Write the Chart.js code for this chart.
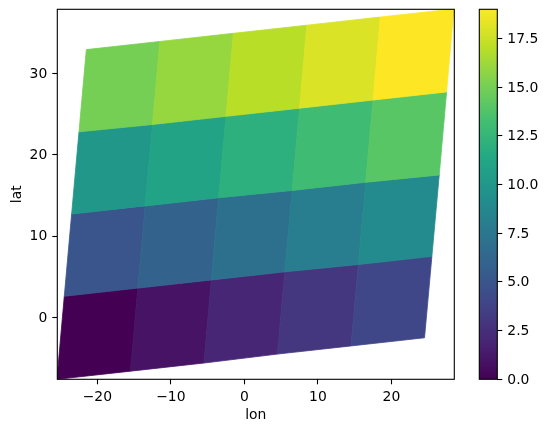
<!DOCTYPE html>
<html>
<head>
<meta charset="utf-8">
<style>
  html, body { margin: 0; padding: 0; background: #fff; }
  canvas { position: absolute; left: 0; top: 0; }
</style>
<script src="https://cdn.jsdelivr.net/npm/chart.js@4"></script>
</head>
<body>
<canvas id="mesh" width="547" height="432"></canvas>
<canvas id="colorbar" width="547" height="432"></canvas>
<script>
// corner coordinates of the mesh, one row per lat line
const lonCorners = [
  [-25.5, -15.5, -5.5, 4.5, 14.5, 24.5],
  [-24.5, -14.5, -4.5, 5.5, 15.5, 25.5],
  [-23.5, -13.5, -3.5, 6.5, 16.5, 26.5],
  [-22.5, -12.5, -2.5, 7.5, 17.5, 27.5],
  [-21.5, -11.5, -1.5, 8.5, 18.5, 28.5]
];
const latCorners = [
  [-7.6, -6.6, -5.6, -4.5, -3.5, -2.5],
  [2.6, 3.6, 4.6, 5.6, 6.5, 7.5],
  [12.7, 13.7, 14.7, 15.6, 16.6, 17.5],
  [22.8, 23.7, 24.7, 25.7, 26.7, 27.7],
  [32.9, 33.9, 34.9, 35.9, 36.9, 37.9]
];
const cellValues = [
  [0, 1, 2, 3, 4],
  [5, 6, 7, 8, 9],
  [10, 11, 12, 13, 14],
  [15, 16, 17, 18, 19]
];
const lonTicks = [-20, -10, 0, 10, 20];
const latTicks = [0, 10, 20, 30];
const barTicks = [0, 2.5, 5, 7.5, 10, 12.5, 15, 17.5];
const viridis = ['#440154', '#482475', '#414487', '#355f8d', '#2a788e', '#21918c', '#22a884', '#44bf70', '#7ad151', '#bddf26', '#fde725'];

const FONT = { family: 'DejaVu Sans', size: 13.9 };
const VMAX = 19;

function hexToRgb(h) {
  return [1, 3, 5].map(i => parseInt(h.substr(i, 2), 16));
}
function colorFor(v) {
  const t = (v / VMAX) * (viridis.length - 1);
  const i = Math.min(Math.floor(t), viridis.length - 2);
  const a = hexToRgb(viridis[i]), b = hexToRgb(viridis[i + 1]);
  const c = a.map((x, k) => Math.round(x + (b[k] - x) * (t - i)));
  return 'rgb(' + c.join(',') + ')';
}

const datasets = [];
cellValues.forEach((row, r) => {
  row.forEach((v, c) => {
    datasets.push({
      label: 'cell ' + v,
      data: [
        { x: lonCorners[r][c], y: latCorners[r][c] },
        { x: lonCorners[r][c + 1], y: latCorners[r][c + 1] },
        { x: lonCorners[r + 1][c + 1], y: latCorners[r + 1][c + 1] },
        { x: lonCorners[r + 1][c], y: latCorners[r + 1][c] }
      ],
      cellColor: colorFor(v),
      pointRadius: 0,
      showLine: false
    });
  });
});

// scatter has no closed shape, so fill each cell from its parsed points
const quadFill = {
  id: 'quadFill',
  beforeDatasetsDraw(chart) {
    const { ctx, chartArea: a } = chart;
    ctx.save();
    ctx.beginPath();
    ctx.rect(a.left, a.top, a.right - a.left, a.bottom - a.top);
    ctx.clip();
    chart.data.datasets.forEach((ds, i) => {
      const pts = chart.getDatasetMeta(i).data;
      ctx.beginPath();
      pts.forEach((p, k) => k ? ctx.lineTo(p.x, p.y) : ctx.moveTo(p.x, p.y));
      ctx.closePath();
      ctx.fillStyle = ds.cellColor;
      ctx.strokeStyle = ds.cellColor;
      ctx.lineWidth = 0.8;
      ctx.fill();
      ctx.stroke();
    });
    ctx.restore();
  }
};

const frame = {
  id: 'frame',
  afterDraw(chart) {
    const { ctx, chartArea: a } = chart;
    ctx.save();
    ctx.strokeStyle = '#000';
    ctx.lineWidth = 1.1;
    ctx.strokeRect(a.left, a.top, a.right - a.left, a.bottom - a.top);
    ctx.restore();
  }
};

function axisStyle() {
  return {
    grid: { drawOnChartArea: false, drawTicks: true, tickLength: 5, tickWidth: 1.1, tickColor: '#000' },
    border: { display: false }
  };
}

// labels overhanging the axis ends must not shrink the plot area
function noOverhang(s) {
  s.paddingTop = s.paddingBottom = s.paddingLeft = s.paddingRight = 0;
}

new Chart(document.getElementById('mesh'), {
  type: 'scatter',
  data: { datasets: datasets },
  plugins: [quadFill, frame],
  options: {
    responsive: false,
    animation: false,
    events: [],
    layout: { padding: { left: 0, top: 9.3, right: 92.7, bottom: 0 } },
    plugins: { legend: { display: false }, tooltip: { enabled: false } },
    scales: {
      x: {
        type: 'linear',
        min: -25.45,
        max: 28.55,
        ...axisStyle(),
        afterFit(s) { s.height = 52.7; noOverhang(s); },
        afterBuildTicks(s) { s.ticks = lonTicks.map(v => ({ value: v })); },
        ticks: {
          autoSkip: false, maxRotation: 0, color: '#000', font: FONT, padding: 5,
          callback: v => String(v).replace('-', '\u2212')
        },
        title: { display: true, text: 'lon', color: '#000', font: FONT, padding: { top: 0, bottom: 8 } }
      },
      y: {
        type: 'linear',
        min: -7.6,
        max: 37.85,
        ...axisStyle(),
        afterFit(s) { s.width = 57.3; noOverhang(s); },
        afterBuildTicks(s) { s.ticks = latTicks.map(v => ({ value: v })); },
        ticks: { autoSkip: false, color: '#000', font: FONT, padding: 5, labelOffset: 0.8 },
        title: { display: true, text: 'lat', color: '#000', font: FONT, padding: { top: 8.6, bottom: 0 } }
      }
    }
  }
});

new Chart(document.getElementById('colorbar'), {
  type: 'bar',
  data: {
    labels: [''],
    datasets: [{
      data: [[0, VMAX]],
      barPercentage: 1,
      categoryPercentage: 1,
      backgroundColor(c) {
        const a = c.chart.chartArea;
        if (!a) return viridis[0];
        const g = c.chart.ctx.createLinearGradient(0, a.bottom, 0, a.top);
        viridis.forEach((col, i) => g.addColorStop(i / (viridis.length - 1), col));
        return g;
      }
    }]
  },
  plugins: [frame],
  options: {
    responsive: false,
    animation: false,
    events: [],
    layout: { padding: { left: 479.3, top: 9.3, right: 0, bottom: 52.7 } },
    plugins: { legend: { display: false }, tooltip: { enabled: false } },
    scales: {
      x: { display: false },
      y: {
        position: 'right',
        min: 0,
        max: VMAX,
        ...axisStyle(),
        afterFit(s) { s.width = 49.7; noOverhang(s); },
        afterBuildTicks(s) { s.ticks = barTicks.map(v => ({ value: v })); },
        ticks: { autoSkip: false, color: '#000', font: FONT, padding: 5, labelOffset: 0.8, callback: v => v.toFixed(1) }
      }
    }
  }
});
</script>
</body>
</html>
